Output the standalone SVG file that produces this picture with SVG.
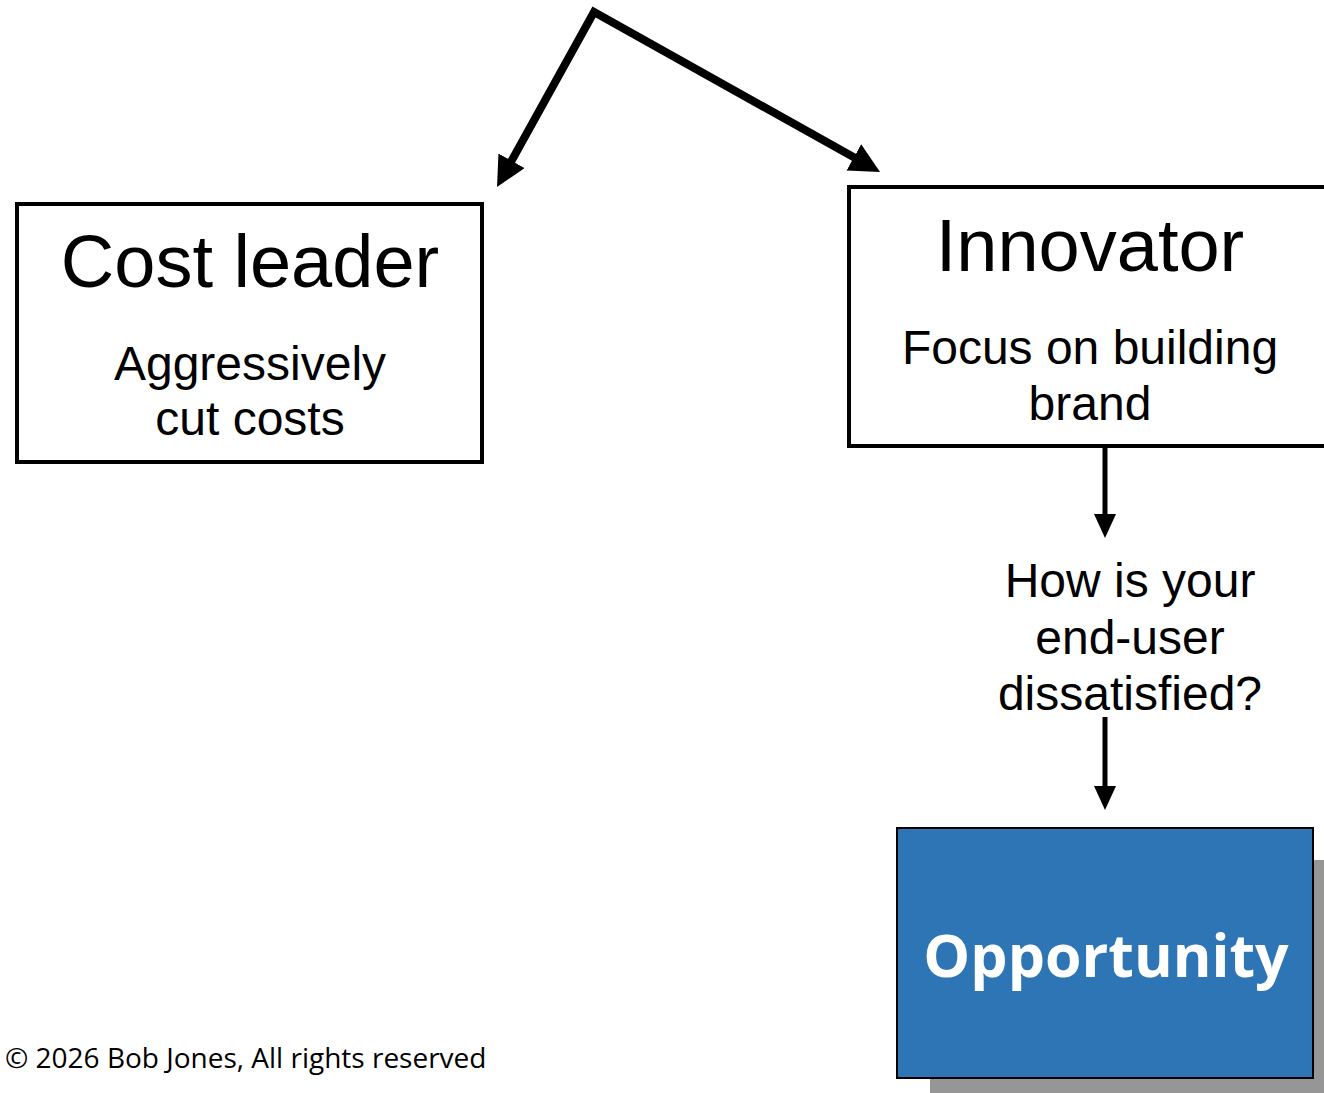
<svg xmlns="http://www.w3.org/2000/svg" width="1324" height="1093" viewBox="0 0 1324 1093">
<style>
.box{fill:#fff;stroke:#000;stroke-width:4}
.t{font-family:"Liberation Sans",Arial,sans-serif;fill:#000;text-anchor:middle}
.big{font-size:74px}
.mid{font-size:48px}
.conn{fill:none;stroke:#000}
</style>
<defs>
<marker id="bigHead" markerUnits="userSpaceOnUse" markerWidth="32" markerHeight="32" refX="2" refY="15" orient="auto-start-reverse" viewBox="0 0 32 32">
<path d="M0,0 L30,15 L0,30 z" fill="#000"/>
</marker>
<marker id="smallHead" markerUnits="userSpaceOnUse" markerWidth="26" markerHeight="24" refX="2" refY="11" orient="auto" viewBox="0 0 26 24">
<path d="M0,0 L24,11 L0,22 z" fill="#000"/>
</marker>
</defs>
<g id="connectors">
<path class="conn" d="M510.6,162.5 L594,12 L855.6,158.3" stroke-width="8" stroke-linejoin="miter" marker-start="url(#bigHead)" marker-end="url(#bigHead)"/>
<path class="conn" d="M1105,447 L1105,516" stroke-width="5" marker-end="url(#smallHead)"/>
<path class="conn" d="M1105,717 L1105,788" stroke-width="5" marker-end="url(#smallHead)"/>
</g>
<g id="cost-leader">
<rect class="box" x="17" y="204" width="465" height="258"/>
<text class="t big" x="250" y="287">Cost leader</text>
<text class="t mid" x="250" y="380">Aggressively</text>
<text class="t mid" x="250" y="435">cut costs</text>
</g>
<g id="innovator">
<rect class="box" x="849" y="187" width="490" height="259"/>
<text class="t big" x="1090" y="271">Innovator</text>
<text class="t mid" x="1090" y="364">Focus on building</text>
<text class="t mid" x="1090" y="420">brand</text>
</g>
<g id="question">
<text class="t mid" x="1130" y="597">How is your</text>
<text class="t mid" x="1130" y="654">end-user</text>
<text class="t mid" x="1130" y="710">dissatisfied?</text>
</g>
<g id="opportunity">
<rect x="930" y="860" width="416" height="250" fill="#969696"/>
<rect x="897" y="828" width="416" height="250" fill="#2E75B6" stroke="#000" stroke-width="2"/>
<text x="1106" y="977" font-family="'Open Sans',sans-serif" font-weight="bold" font-size="59" fill="#fff" text-anchor="middle">Opportunity</text>
</g>
<g id="copyright">
<text x="5" y="1068" font-family="'Open Sans',sans-serif" font-size="28" fill="#000">© 2026 Bob Jones, All rights reserved</text>
</g>
</svg>
